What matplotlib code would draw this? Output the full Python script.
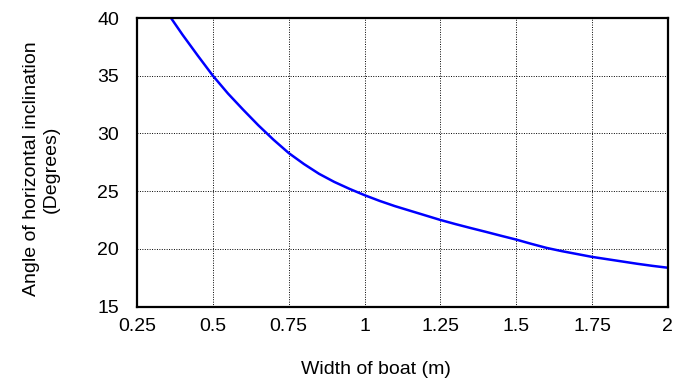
import numpy as np
import matplotlib.pyplot as plt

plt.rcParams['font.family'] = ['Liberation Sans', 'DejaVu Sans']

# values
width = [0.362, 0.40, 0.45, 0.50, 0.55, 0.60, 0.65, 0.70, 0.75, 0.80, 0.85,
         0.90, 0.95, 1.00, 1.05, 1.10, 1.15, 1.20, 1.25, 1.30, 1.35, 1.40,
         1.45, 1.50, 1.55, 1.60, 1.65, 1.70, 1.75, 1.80, 1.85, 1.90, 1.95, 2.00]
angle = [40.0, 38.55, 36.75, 35.0, 33.45, 32.05, 30.7, 29.45, 28.3, 27.35, 26.5,
         25.8, 25.2, 24.65, 24.15, 23.7, 23.3, 22.9, 22.5, 22.14, 21.8, 21.47,
         21.13, 20.8, 20.43, 20.08, 19.8, 19.55, 19.3, 19.1, 18.9, 18.7, 18.52, 18.36]

xticks = [0.25, 0.5, 0.75, 1, 1.25, 1.5, 1.75, 2]
xticklabels = ['0.25', '0.5', '0.75', '1', '1.25', '1.5', '1.75', '2']
yticks = [15, 20, 25, 30, 35, 40]

fig = plt.figure(figsize=(6.76, 3.88), dpi=100)
ax = fig.add_axes([0.2027, 0.21, 0.7853, 0.7436])

ax.plot(width, angle, color='#0000ff', linewidth=1.8)

ax.set_xlim(0.25, 2)
ax.set_ylim(15, 40)
ax.set_xticks(xticks)
ax.set_xticklabels(xticklabels)
ax.set_yticks(yticks)

ax.grid(True, color='black', linestyle=(0, (1, 1.5)), linewidth=0.7)
for s in ax.spines.values():
    s.set_linewidth(1.6)
    s.set_color('black')

ax.tick_params(axis='both', length=0, labelsize=14)
ax.tick_params(axis='x', pad=8)
ax.tick_params(axis='y', pad=13)

ax.set_xlabel('Width of boat (m)', fontsize=14)
ax.xaxis.set_label_coords(0.45, -0.19)
ax.set_ylabel('Angle of horizontal inclination\n(Degrees)', fontsize=14)
ax.yaxis.set_label_coords(-0.146, 0.477)

fig.savefig('out.png', dpi=100)
